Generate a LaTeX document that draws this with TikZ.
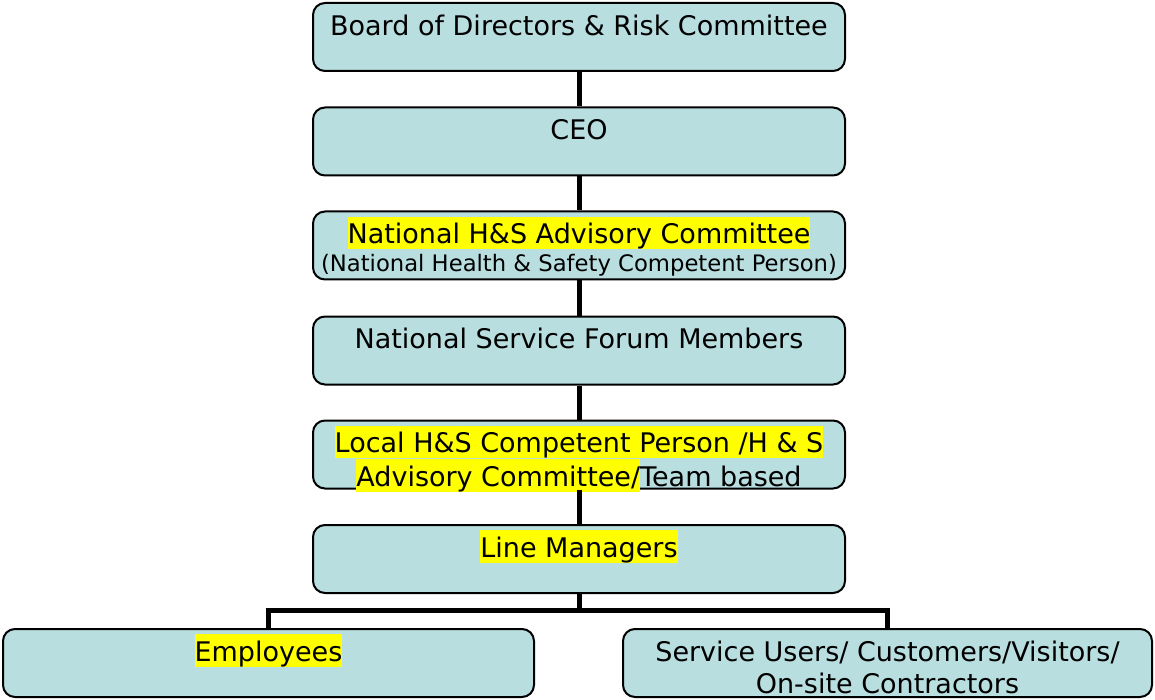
\documentclass[tikz,border=0pt]{standalone}
\usepackage{fontspec}
\setmainfont{DejaVu Sans}
\usetikzlibrary{positioning}
\definecolor{boxfill}{RGB}{184,222,224}
\definecolor{hlyellow}{RGB}{255,255,0}
\newcommand{\tall}{\rule[-5pt]{0pt}{32pt}}
\newcommand{\hlt}[1]{{\setlength{\fboxsep}{0pt}\colorbox{hlyellow}{\tall#1}}}

\begin{document}
\begin{tikzpicture}[
    x=1pt, y=-1pt,
    box/.style={rectangle, draw, line width=2pt, rounded corners=12pt, fill=boxfill,
                minimum width=532pt, minimum height=68pt, inner sep=0pt},
    lbl/.style={anchor=north, align=center, inner sep=0pt, yshift=-6pt,
                font=\fontsize{27}{32}\selectfont},
    link/.style={line width=5pt}
]
    \useasboundingbox (0,0) rectangle (1155,700);

    % Chain of command
    \node[box, label={[lbl]north:\tall Board of Directors \& Risk Committee}] (board) at (579,37) {};
    \node[box, label={[lbl]north:\tall CEO}] (ceo) at (579,141.5) {};
    \node[box, label={[lbl]north:{\hlt{National H\&S Advisory Committee}\\[-4pt]
        {\fontsize{22.7}{27}\selectfont (National Health \& Safety Competent Person)}}}] (nac) at (579,245.5) {};
    \node[box, label={[lbl]north:\tall National Service Forum Members}] (forum) at (579,350.5) {};
    \node[box, label={[lbl]north:{\hlt{Local H\&S Competent Person /H \& S}\\
        \hlt{Advisory Committee/}Team based}}] (local) at (579,454.5) {};
    \node[box, label={[lbl]north:\hlt{Line Managers}}] (lmgr) at (579,559) {};

    % Bottom row
    \node[box, minimum width=531pt, label={[lbl]north:\hlt{Employees}}] (emp) at (268.5,663) {};
    \node[box, minimum width=529pt, label={[lbl]north:{\tall Service Users/ Customers/Visitors/\\
        On-site Contractors}}] (svc) at (887.5,663) {};

    % Connectors
    \draw[link] (board) -- (ceo);
    \draw[link] (ceo) -- (nac);
    \draw[link] (nac) -- (forum);
    \draw[link] (forum) -- (local);
    \draw[link] (local) -- (lmgr);
    \draw[link] (lmgr.south) -- ++(0,16.5) -| (emp.north);
    \draw[link] (lmgr.south) -- ++(0,16.5) -| (svc.north);
\end{tikzpicture}
\end{document}
